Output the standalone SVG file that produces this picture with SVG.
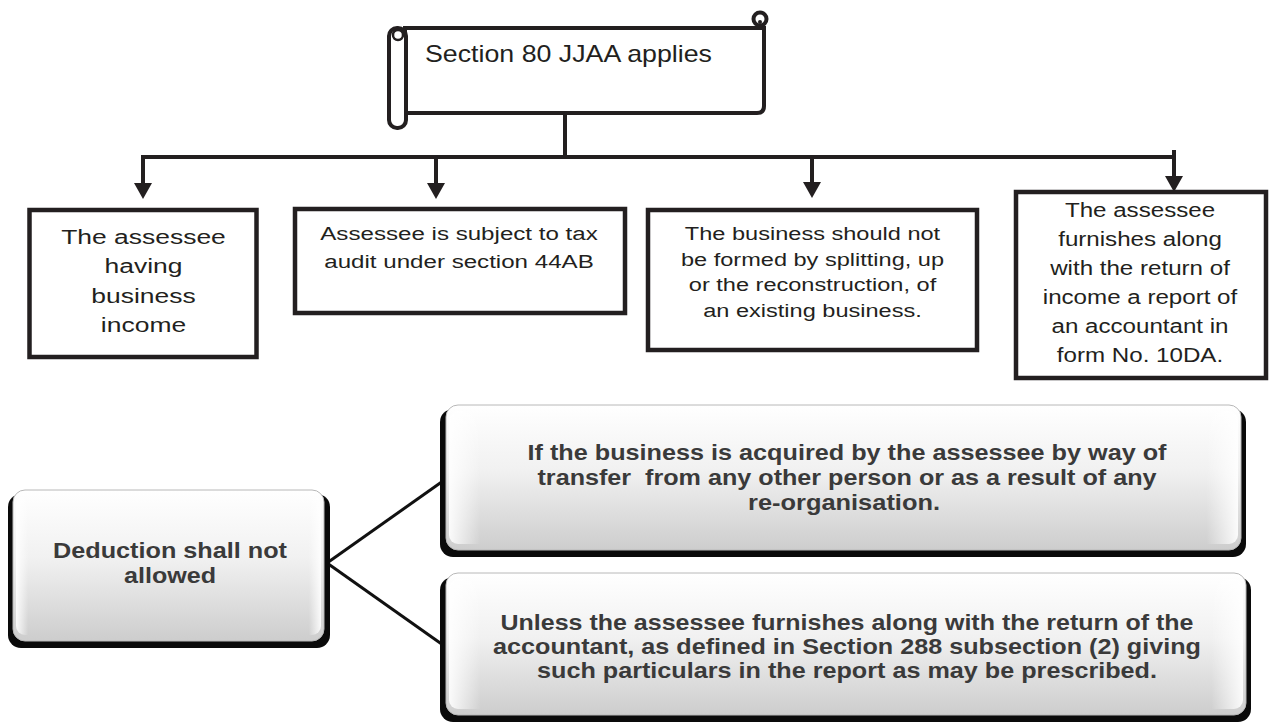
<svg xmlns="http://www.w3.org/2000/svg" width="1269" height="724" viewBox="0 0 1269 724">
<defs>
<linearGradient id="btn" x1="0" y1="0" x2="0" y2="1">
<stop offset="0" stop-color="#ffffff"/>
<stop offset="0.45" stop-color="#f1f1f1"/>
<stop offset="1" stop-color="#cdcdcd"/>
</linearGradient>
<linearGradient id="sheen" x1="0" y1="0" x2="1" y2="0">
<stop offset="0" stop-color="#ffffff" stop-opacity="0.9"/>
<stop offset="0.04" stop-color="#ffffff" stop-opacity="0"/>
<stop offset="0.96" stop-color="#ffffff" stop-opacity="0"/>
<stop offset="1" stop-color="#ffffff" stop-opacity="0.9"/>
</linearGradient>
<marker id="arr" viewBox="0 0 16 18" refX="6" refY="9" markerWidth="16" markerHeight="18" markerUnits="userSpaceOnUse" orient="auto">
<path d="M0,0 L16,9 L0,18 Z" fill="#231f20"/>
</marker>
</defs>
<style>
.box{fill:#fff;stroke:#231f20;stroke-width:4.5}
.t{font-family:"Liberation Sans",Arial,sans-serif;fill:#231f20;text-anchor:middle}
.b{font-family:"Liberation Sans",Arial,sans-serif;font-weight:bold;fill:#3a3a3a;text-anchor:middle}
.sh{fill:#0a0a0a}
.face{fill:url(#btn);stroke:#b8b8b8;stroke-width:1}
.gl{fill:url(#sheen)}
.ln{fill:none;stroke:#231f20;stroke-width:4}
.ln2{fill:none;stroke:#111;stroke-width:3}
</style>

<g id="connectors">
<line class="ln" x1="565" y1="113" x2="565" y2="157"/>
<line class="ln" x1="141" y1="157" x2="1176" y2="157"/>
<line class="ln" x1="1174" y1="150" x2="1174" y2="159"/>
<line class="ln" x1="143" y1="155" x2="143" y2="189" marker-end="url(#arr)"/>
<line class="ln" x1="436" y1="157" x2="436" y2="189" marker-end="url(#arr)"/>
<line class="ln" x1="812" y1="157" x2="812" y2="188" marker-end="url(#arr)"/>
<line class="ln" x1="1174" y1="157" x2="1174" y2="182" marker-end="url(#arr)"/>
<line class="ln2" x1="327" y1="563" x2="443" y2="481"/>
<line class="ln2" x1="327" y1="563" x2="443" y2="645"/>
</g>

<g id="scroll">
<path d="M405,28 H764 V106 Q764,113 757,113 H405 Z" fill="#fff" stroke="#231f20" stroke-width="4"/>
<circle cx="760" cy="19" r="6.5" fill="#fff" stroke="#231f20" stroke-width="4"/>
<circle cx="760" cy="22" r="2" fill="#231f20"/>
<rect x="389" y="28" width="17" height="100" rx="8" fill="#fff" stroke="#231f20" stroke-width="4"/>
<circle cx="398" cy="35" r="5" fill="#fff" stroke="#231f20" stroke-width="2.5"/>
<text class="t" x="425" y="62" font-size="24" style="text-anchor:start" textLength="287" lengthAdjust="spacingAndGlyphs">Section 80 JJAA applies</text>
</g>

<g id="n1">
<rect class="box" x="29.5" y="210" width="227" height="147"/>
<g transform="translate(143.5,0) scale(1.26,1)">
<text class="t" font-size="21"><tspan x="0" y="244">The assessee</tspan><tspan x="0" y="273">having</tspan><tspan x="0" y="303">business</tspan><tspan x="0" y="332">income</tspan></text>
</g>
</g>

<g id="n2">
<rect class="box" x="295" y="209" width="330" height="104"/>
<g transform="translate(459,0) scale(1.27,1)">
<text class="t" font-size="19"><tspan x="0" y="240">Assessee is subject to tax</tspan><tspan x="0" y="268">audit under section 44AB</tspan></text>
</g>
</g>

<g id="n3">
<rect class="box" x="648" y="210" width="329" height="140"/>
<g transform="translate(812.5,0) scale(1.24,1)">
<text class="t" font-size="19"><tspan x="0" y="240">The business should not</tspan><tspan x="0" y="266">be formed by splitting, up</tspan><tspan x="0" y="291">or the reconstruction, of</tspan><tspan x="0" y="317">an existing business.</tspan></text>
</g>
</g>

<g id="n4">
<rect class="box" x="1016" y="192" width="250" height="186"/>
<g transform="translate(1140,0) scale(1.15,1)">
<text class="t" font-size="21"><tspan x="0" y="217">The assessee</tspan><tspan x="0" y="246">furnishes along</tspan><tspan x="0" y="275">with the return of</tspan><tspan x="0" y="304">income a report of</tspan><tspan x="0" y="333">an accountant in</tspan><tspan x="0" y="362">form No. 10DA.</tspan></text>
</g>
</g>

<g id="n5">
<rect class="sh" x="8" y="494" width="322" height="154" rx="13"/>
<rect class="face" x="13" y="490" width="311" height="151" rx="12"/>
<rect class="gl" x="16" y="496" width="305" height="139" rx="9"/>
<text class="b" font-size="22"><tspan x="170" y="558" textLength="234" lengthAdjust="spacingAndGlyphs">Deduction shall not</tspan><tspan x="170" y="583" textLength="92" lengthAdjust="spacingAndGlyphs">allowed</tspan></text>
</g>

<g id="n6">
<rect class="sh" x="440" y="409" width="806" height="148" rx="13"/>
<rect class="face" x="446" y="405" width="795" height="145" rx="12"/>
<rect class="gl" x="449" y="411" width="789" height="133" rx="9"/>
<text class="b" font-size="21.5" xml:space="preserve"><tspan x="847" y="460" textLength="639" lengthAdjust="spacingAndGlyphs">If the business is acquired by the assessee by way of</tspan><tspan x="847" y="485" textLength="619" lengthAdjust="spacingAndGlyphs">transfer  from any other person or as a result of any</tspan><tspan x="844" y="510" textLength="192" lengthAdjust="spacingAndGlyphs">re-organisation.</tspan></text>
</g>

<g id="n7">
<rect class="sh" x="440" y="577" width="811" height="145" rx="13"/>
<rect class="face" x="446" y="573" width="800" height="142" rx="12"/>
<rect class="gl" x="449" y="579" width="794" height="130" rx="9"/>
<text class="b" font-size="21.5"><tspan x="847" y="630" textLength="693" lengthAdjust="spacingAndGlyphs">Unless the assessee furnishes along with the return of the</tspan><tspan x="847" y="654" textLength="708" lengthAdjust="spacingAndGlyphs">accountant, as defined in Section 288 subsection (2) giving</tspan><tspan x="847" y="678" textLength="620" lengthAdjust="spacingAndGlyphs">such particulars in the report as may be prescribed.</tspan></text>
</g>
</svg>
